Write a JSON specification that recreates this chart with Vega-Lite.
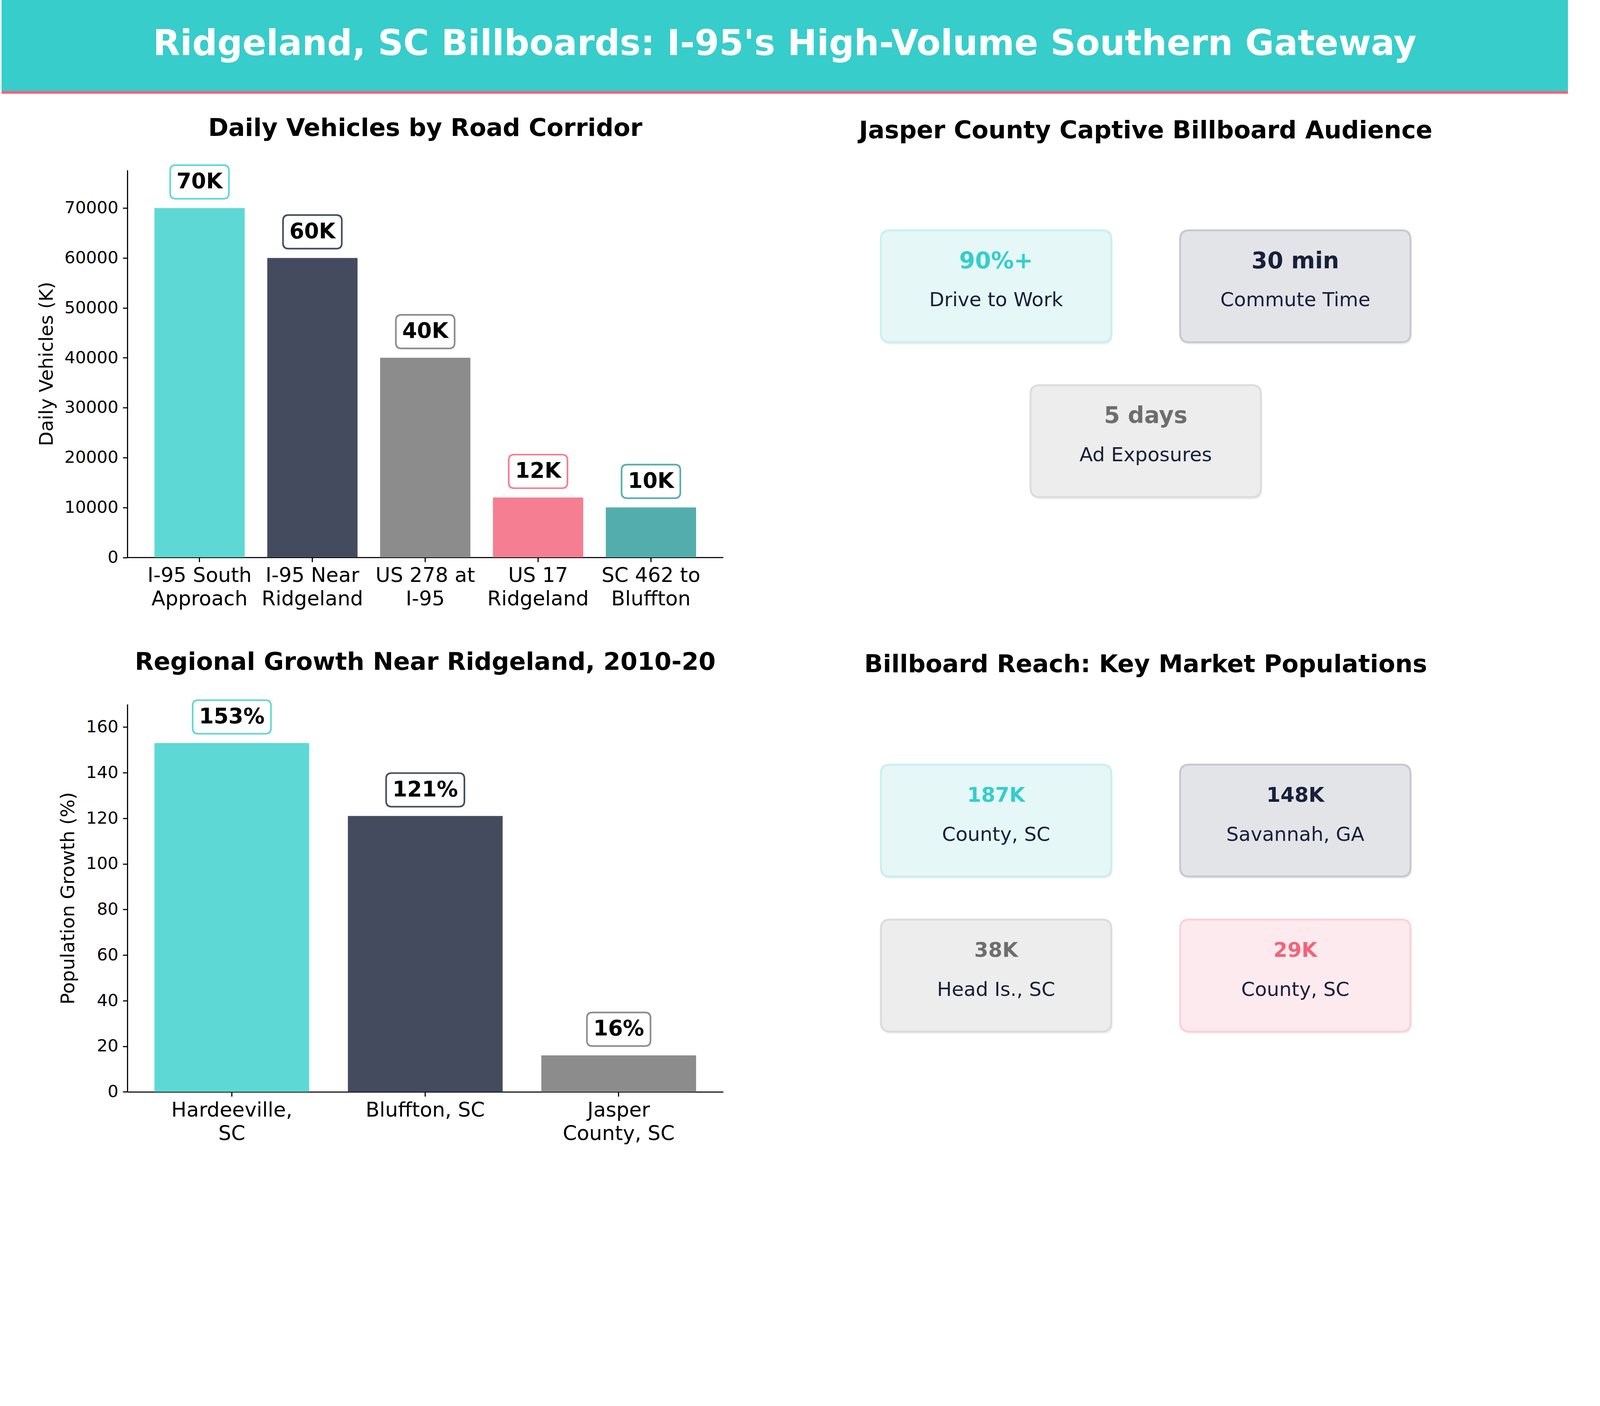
{
  "$schema": "https://vega.github.io/schema/vega-lite/v6.json",
  "background": "white",
  "padding": 0,
  "config": {
    "font": "DejaVu Sans",
    "view": {"stroke": null},
    "axis": {
      "grid": false,
      "domainColor": "black",
      "domainWidth": 2.9,
      "tickColor": "black",
      "tickWidth": 2.9,
      "tickSize": 11.7,
      "labelColor": "black",
      "labelLimit": 0,
      "labelOverlap": false,
      "titleColor": "black",
      "titleFontWeight": "normal",
      "titleLimit": 0
    },
    "title": {"fontSize": 62.6, "fontWeight": "bold", "color": "black", "frame": "group", "baseline": "alphabetic", "anchor": "middle"}
  },
  "datasets": {
    "header": [{"title": "Ridgeland, SC Billboards: I-95's High-Volume Southern Gateway"}],
    "roads": [
      {"road": "I-95 South\nApproach", "vehicles": 70000, "label": "70K"},
      {"road": "I-95 Near\nRidgeland", "vehicles": 60000, "label": "60K"},
      {"road": "US 278 at\nI-95", "vehicles": 40000, "label": "40K"},
      {"road": "US 17\nRidgeland", "vehicles": 12000, "label": "12K"},
      {"road": "SC 462 to\nBluffton", "vehicles": 10000, "label": "10K"}
    ],
    "growth": [
      {"place": "Hardeeville,\nSC", "growth": 153, "label": "153%"},
      {"place": "Bluffton, SC", "growth": 121, "label": "121%"},
      {"place": "Jasper\nCounty, SC", "growth": 16, "label": "16%"}
    ],
    "audience": [
      {"metric": "90%+", "caption": "Drive to Work", "col": 0, "row": 0},
      {"metric": "30 min", "caption": "Commute Time", "col": 1, "row": 0},
      {"metric": "5 days", "caption": "Ad Exposures", "col": 0.5, "row": 1}
    ],
    "markets": [
      {"metric": "187K", "caption": "County, SC", "col": 0, "row": 0},
      {"metric": "148K", "caption": "Savannah, GA", "col": 1, "row": 0},
      {"metric": "38K", "caption": "Head Is., SC", "col": 0, "row": 1},
      {"metric": "29K", "caption": "County, SC", "col": 1, "row": 1}
    ],
    "blank": [{"a": 1}]
  },
  "align": "none",
  "spacing": 57.6,
  "resolve": {"scale": {"color": "independent", "fill": "independent", "stroke": "independent"}},
  "vconcat": [
    {
      "width": 4010,
      "height": 240,
      "view": {"fill": "#36CDCB", "stroke": null},
      "data": {"name": "header"},
      "layer": [
        {
          "mark": {"type": "rule", "color": "#F0647A", "strokeWidth": 6.7},
          "encoding": {"y": {"datum": 3.35, "type": "quantitative", "scale": {"domain": [0, 240], "nice": false}, "axis": null}}
        },
        {
          "mark": {"type": "text", "color": "white", "fontSize": 90, "fontWeight": "bold", "baseline": "middle", "align": "center"},
          "encoding": {
            "y": {"datum": 126.4, "type": "quantitative"},
            "text": {"field": "title"}
          }
        }
      ]
    },
    {
      "align": "none",
      "spacing": 102.7,
      "resolve": {"scale": {"color": "independent", "fill": "independent", "stroke": "independent"}},
      "vconcat": [
        {
          "align": "none",
          "spacing": 0,
          "resolve": {"scale": {"color": "independent", "fill": "independent", "stroke": "independent"}},
          "hconcat": [
            {"width": 91, "height": 1, "data": {"name": "blank"}, "mark": {"type": "point", "opacity": 0}},
            {
              "align": "none",
              "spacing": 315,
              "resolve": {"scale": {"color": "independent", "fill": "independent", "stroke": "independent"}},
              "hconcat": [
                {
                  "width": 1525.3,
                  "height": 991.5,
                  "title": {"text": "Daily Vehicles by Road Corridor", "offset": 52.6},
                  "data": {"name": "roads"},
                  "encoding": {
                    "x": {
                      "field": "road",
                      "type": "nominal",
                      "sort": null,
                      "scale": {"paddingInner": 0.2, "paddingOuter": 0.24},
                      "axis": {"title": null, "labelAngle": 0, "labelExpr": "split(datum.label, '\\n')", "labelFontSize": 51.8, "labelLineHeight": 60.1, "labelPadding": 10}
                    }
                  },
                  "layer": [
                    {
                      "mark": {"type": "bar"},
                      "encoding": {
                        "y": {
                          "field": "vehicles",
                          "type": "quantitative",
                          "scale": {"domain": [0, 77600], "nice": false},
                          "axis": {"title": "Daily Vehicles (K)", "values": [0, 10000, 20000, 30000, 40000, 50000, 60000, 70000], "format": "d", "labelFontSize": 43.4, "titleFontSize": 48.4, "labelPadding": 11.7, "titlePadding": 20}
                        },
                        "color": {
                          "field": "road",
                          "type": "nominal",
                          "scale": {"domain": ["I-95 South\nApproach", "I-95 Near\nRidgeland", "US 278 at\nI-95", "US 17\nRidgeland", "SC 462 to\nBluffton"], "range": ["#5ED8D4", "#454B5F", "#8C8C8C", "#F57E92", "#54ADAD"]},
                          "legend": null
                        }
                      }
                    },
                    {
                      "mark": {"type": "point", "shape": "M -61 -43 L 61 -43 Q 75.2 -43 75.2 -28.8 L 75.2 28.8 Q 75.2 43 61 43 L -61 43 Q -75.2 43 -75.2 28.8 L -75.2 -28.8 Q -75.2 -43 -61 -43 Z", "size": 4, "filled": true, "fill": "white", "strokeWidth": 4.2, "opacity": 1, "yOffset": -66.8},
                      "encoding": {
                        "y": {"field": "vehicles", "type": "quantitative"},
                        "stroke": {
                          "field": "road",
                          "type": "nominal",
                          "scale": {"domain": ["I-95 South\nApproach", "I-95 Near\nRidgeland", "US 278 at\nI-95", "US 17\nRidgeland", "SC 462 to\nBluffton"], "range": ["#5ED8D4", "#454B5F", "#8C8C8C", "#F57E92", "#54ADAD"]},
                          "legend": null
                        }
                      }
                    },
                    {
                      "mark": {"type": "text", "fontSize": 54.3, "fontWeight": "bold", "color": "black", "baseline": "middle", "yOffset": -66.8},
                      "encoding": {
                        "y": {"field": "vehicles", "type": "quantitative"},
                        "text": {"field": "label"}
                      }
                    }
                  ]
                },
                {
                  "width": 1532,
                  "height": 991.5,
                  "title": {"text": "Jasper County Captive Billboard Audience", "offset": 68.5},
                  "data": {"name": "audience"},
                  "encoding": {
                    "x": {"field": "col", "type": "quantitative", "scale": {"domain": [-0.5, 1.5], "nice": false, "zero": false}, "axis": null},
                    "y": {"field": "row", "type": "quantitative", "scale": {"domain": [-0.75, 1.75], "nice": false, "zero": false, "reverse": true}, "axis": null}
                  },
                  "layer": [
                    {
                      "mark": {"type": "point", "shape": "M -271.5 -143.3 L 271.5 -143.3 Q 294.9 -143.3 294.9 -119.9 L 294.9 119.9 Q 294.9 143.3 271.5 143.3 L -271.5 143.3 Q -294.9 143.3 -294.9 119.9 L -294.9 -119.9 Q -294.9 -143.3 -271.5 -143.3 Z", "size": 4, "filled": true, "fill": "#000000", "strokeWidth": 0, "opacity": 0.06, "xOffset": 3.3, "yOffset": 5.8}
                    },
                    {
                      "mark": {"type": "point", "shape": "M -271.5 -143.3 L 271.5 -143.3 Q 294.9 -143.3 294.9 -119.9 L 294.9 119.9 Q 294.9 143.3 271.5 143.3 L -271.5 143.3 Q -294.9 143.3 -294.9 119.9 L -294.9 -119.9 Q -294.9 -143.3 -271.5 -143.3 Z", "size": 4, "filled": true, "strokeWidth": 5, "opacity": 1},
                      "encoding": {
                        "fill": {"field": "metric", "type": "nominal", "scale": {"domain": ["90%+", "30 min", "5 days"], "range": ["#E5F7F7", "#E3E4E8", "#EDEDED"]}, "legend": null},
                        "stroke": {"field": "metric", "type": "nominal", "scale": {"domain": ["90%+", "30 min", "5 days"], "range": ["#C9F0EF", "#C8C9D1", "#DCDCDC"]}, "legend": null}
                      }
                    },
                    {
                      "mark": {"type": "text", "fontSize": 58.5, "fontWeight": "bold", "baseline": "middle", "yOffset": -64.3},
                      "encoding": {
                        "text": {"field": "metric"},
                        "color": {"field": "metric", "type": "nominal", "scale": {"domain": ["90%+", "30 min", "5 days"], "range": ["#36CDCB", "#1A1F3A", "#6E6E6E"]}, "legend": null}
                      }
                    },
                    {
                      "mark": {"type": "text", "fontSize": 50.1, "color": "#1A1F3A", "baseline": "middle", "yOffset": 35.9},
                      "encoding": {"text": {"field": "caption"}}
                    }
                  ]
                }
              ]
            }
          ]
        },
        {
          "align": "none",
          "spacing": 0,
          "resolve": {"scale": {"color": "independent", "fill": "independent", "stroke": "independent"}},
          "hconcat": [
            {"width": 146, "height": 1, "data": {"name": "blank"}, "mark": {"type": "point", "opacity": 0}},
            {
              "align": "none",
              "spacing": 315,
              "resolve": {"scale": {"color": "independent", "fill": "independent", "stroke": "independent"}},
              "hconcat": [
                {
                  "width": 1525.3,
                  "height": 992.3,
                  "title": {"text": "Regional Growth Near Ridgeland, 2010-20", "offset": 56},
                  "data": {"name": "growth"},
                  "encoding": {
                    "x": {
                      "field": "place",
                      "type": "nominal",
                      "sort": null,
                      "scale": {"paddingInner": 0.2, "paddingOuter": 0.14},
                      "axis": {"title": null, "labelAngle": 0, "labelExpr": "split(datum.label, '\\n')", "labelFontSize": 51.8, "labelLineHeight": 60.1, "labelPadding": 10}
                    }
                  },
                  "layer": [
                    {
                      "mark": {"type": "bar"},
                      "encoding": {
                        "y": {
                          "field": "growth",
                          "type": "quantitative",
                          "scale": {"domain": [0, 170], "nice": false},
                          "axis": {"title": "Population Growth (%)", "values": [0, 20, 40, 60, 80, 100, 120, 140, 160], "format": "d", "labelFontSize": 43.4, "titleFontSize": 48.4, "labelPadding": 11.7, "titlePadding": 20}
                        },
                        "color": {
                          "field": "place",
                          "type": "nominal",
                          "scale": {"domain": ["Hardeeville,\nSC", "Bluffton, SC", "Jasper\nCounty, SC"], "range": ["#5ED8D4", "#454B5F", "#8C8C8C"]},
                          "legend": null
                        }
                      }
                    },
                    {
                      "mark": {"type": "point", "size": 4, "filled": true, "fill": "white", "strokeWidth": 4.2, "opacity": 1, "yOffset": -66.8},
                      "encoding": {
                        "y": {"field": "growth", "type": "quantitative"},
                        "shape": {
                          "condition": {"test": "length(datum.label) > 3", "value": "M -86 -43 L 86 -43 Q 100.2 -43 100.2 -28.8 L 100.2 28.8 Q 100.2 43 86 43 L -86 43 Q -100.2 43 -100.2 28.8 L -100.2 -28.8 Q -100.2 -43 -86 -43 Z"},
                          "value": "M -67.2 -43 L 67.2 -43 Q 81.4 -43 81.4 -28.8 L 81.4 28.8 Q 81.4 43 67.2 43 L -67.2 43 Q -81.4 43 -81.4 28.8 L -81.4 -28.8 Q -81.4 -43 -67.2 -43 Z"
                        },
                        "stroke": {
                          "field": "place",
                          "type": "nominal",
                          "scale": {"domain": ["Hardeeville,\nSC", "Bluffton, SC", "Jasper\nCounty, SC"], "range": ["#5ED8D4", "#454B5F", "#8C8C8C"]},
                          "legend": null
                        }
                      }
                    },
                    {
                      "mark": {"type": "text", "fontSize": 54.3, "fontWeight": "bold", "color": "black", "baseline": "middle", "yOffset": -66.8},
                      "encoding": {
                        "y": {"field": "growth", "type": "quantitative"},
                        "text": {"field": "label"}
                      }
                    }
                  ]
                },
                {
                  "width": 1532,
                  "height": 992.3,
                  "title": {"text": "Billboard Reach: Key Market Populations", "offset": 68.5},
                  "data": {"name": "markets"},
                  "encoding": {
                    "x": {"field": "col", "type": "quantitative", "scale": {"domain": [-0.5, 1.5], "nice": false, "zero": false}, "axis": null},
                    "y": {"field": "row", "type": "quantitative", "scale": {"domain": [-0.75, 1.75], "nice": false, "zero": false, "reverse": true}, "axis": null}
                  },
                  "layer": [
                    {
                      "mark": {"type": "point", "shape": "M -271.5 -143.3 L 271.5 -143.3 Q 294.9 -143.3 294.9 -119.9 L 294.9 119.9 Q 294.9 143.3 271.5 143.3 L -271.5 143.3 Q -294.9 143.3 -294.9 119.9 L -294.9 -119.9 Q -294.9 -143.3 -271.5 -143.3 Z", "size": 4, "filled": true, "fill": "#000000", "strokeWidth": 0, "opacity": 0.06, "xOffset": 3.3, "yOffset": 5.8}
                    },
                    {
                      "mark": {"type": "point", "shape": "M -271.5 -143.3 L 271.5 -143.3 Q 294.9 -143.3 294.9 -119.9 L 294.9 119.9 Q 294.9 143.3 271.5 143.3 L -271.5 143.3 Q -294.9 143.3 -294.9 119.9 L -294.9 -119.9 Q -294.9 -143.3 -271.5 -143.3 Z", "size": 4, "filled": true, "strokeWidth": 5, "opacity": 1},
                      "encoding": {
                        "fill": {"field": "metric", "type": "nominal", "scale": {"domain": ["187K", "148K", "38K", "29K"], "range": ["#E5F7F7", "#E3E4E8", "#EDEDED", "#FDEAEE"]}, "legend": null},
                        "stroke": {"field": "metric", "type": "nominal", "scale": {"domain": ["187K", "148K", "38K", "29K"], "range": ["#C9F0EF", "#C8C9D1", "#DCDCDC", "#FAD2D9"]}, "legend": null}
                      }
                    },
                    {
                      "mark": {"type": "text", "fontSize": 51.8, "fontWeight": "bold", "baseline": "middle", "yOffset": -63.5},
                      "encoding": {
                        "text": {"field": "metric"},
                        "color": {"field": "metric", "type": "nominal", "scale": {"domain": ["187K", "148K", "38K", "29K"], "range": ["#36CDCB", "#1A1F3A", "#6E6E6E", "#F4637B"]}, "legend": null}
                      }
                    },
                    {
                      "mark": {"type": "text", "fontSize": 50.1, "color": "#1A1F3A", "baseline": "middle", "yOffset": 36.8},
                      "encoding": {"text": {"field": "caption"}}
                    }
                  ]
                }
              ]
            }
          ]
        }
      ]
    }
  ]
}
